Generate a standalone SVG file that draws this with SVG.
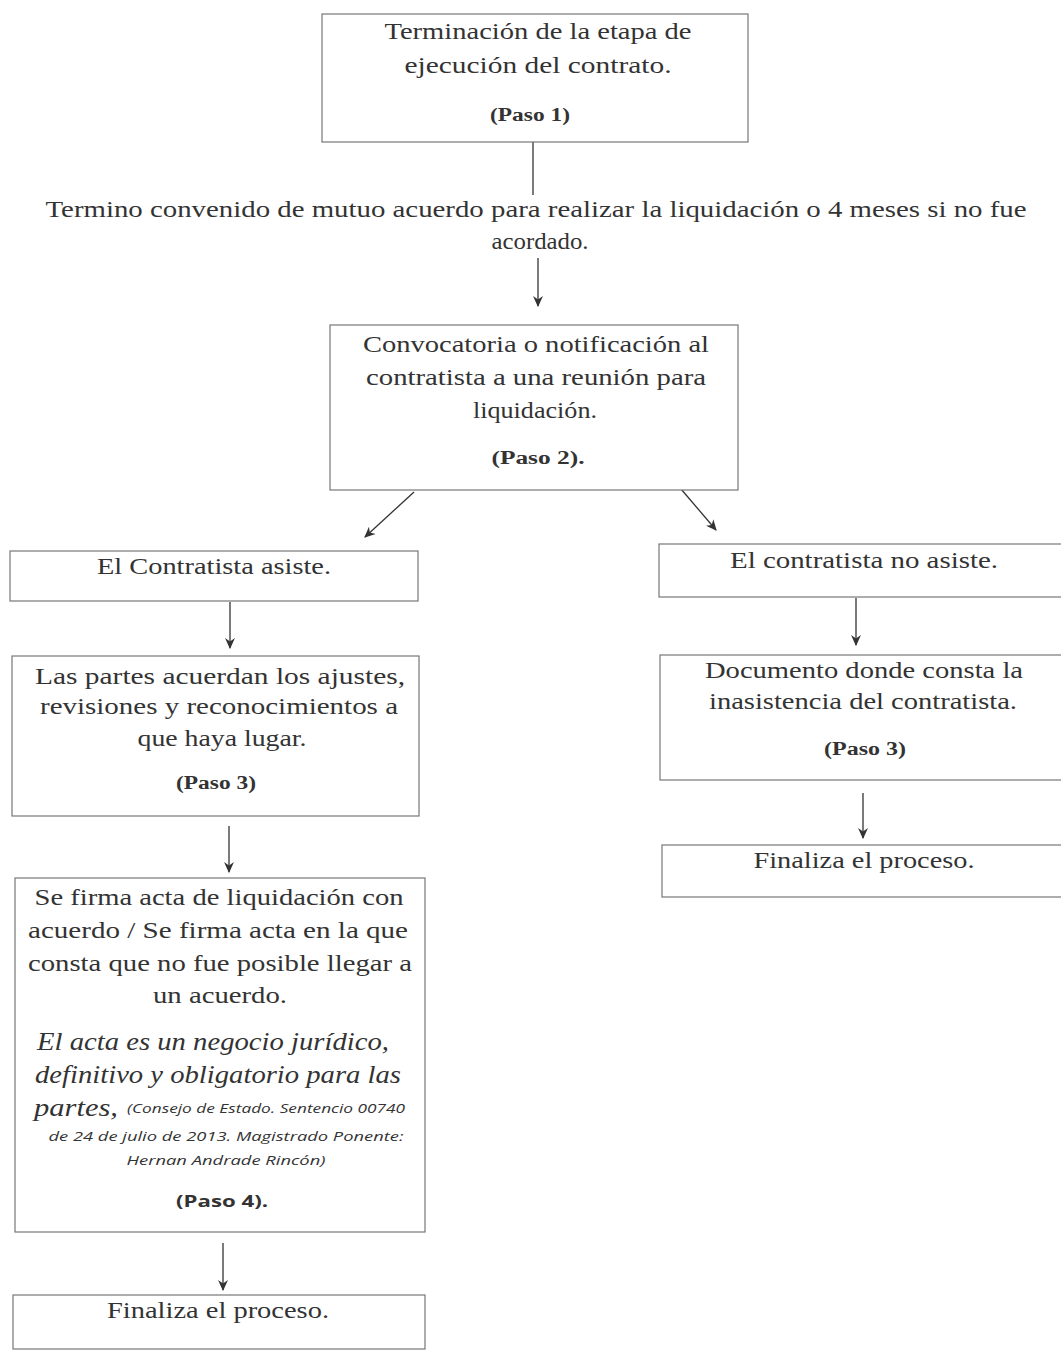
<svg xmlns="http://www.w3.org/2000/svg" width="1061" height="1351" viewBox="0 0 1061 1351">
<style>
.box{fill:#fff;stroke:#777;stroke-width:1.2}
.t{font-family:"Liberation Serif","Times New Roman",serif;font-size:24px;fill:#333;text-anchor:middle}
.p{font-family:"Liberation Serif","Times New Roman",serif;font-size:18px;font-weight:bold;fill:#333;text-anchor:middle}
.i{font-family:"Liberation Serif","Times New Roman",serif;font-size:26px;font-style:italic;fill:#333;text-anchor:middle}
.s{font-family:"Open Sans","Liberation Sans",sans-serif;font-size:12.5px;font-style:italic;fill:#333;text-anchor:middle}
.ps{font-family:"Open Sans","Liberation Sans",sans-serif;font-size:16px;font-weight:bold;fill:#333;text-anchor:middle}
.c{stroke:#333;stroke-width:1.3;fill:none}
</style>
<defs>
<marker id="ah" viewBox="0 0 10 10" refX="9" refY="5" markerWidth="11" markerHeight="11" markerUnits="userSpaceOnUse" orient="auto">
<path d="M0,0.5 L10,5 L0,9.5 L3,5 z" fill="#333"/>
</marker>
</defs>
<g id="connectors">
<line class="c" x1="533" y1="142" x2="533" y2="195"/>
<line class="c" x1="538" y1="258" x2="538" y2="306" marker-end="url(#ah)"/>
<line class="c" x1="414" y1="492" x2="365" y2="537" marker-end="url(#ah)"/>
<line class="c" x1="681" y1="489" x2="716" y2="530" marker-end="url(#ah)"/>
<line class="c" x1="230" y1="602" x2="230" y2="648" marker-end="url(#ah)"/>
<line class="c" x1="229" y1="826" x2="229" y2="872" marker-end="url(#ah)"/>
<line class="c" x1="223" y1="1243" x2="223" y2="1290" marker-end="url(#ah)"/>
<line class="c" x1="856" y1="598" x2="856" y2="645" marker-end="url(#ah)"/>
<line class="c" x1="863" y1="793" x2="863" y2="838" marker-end="url(#ah)"/>
</g>
<g id="n1">
<rect class="box" x="322" y="14" width="426" height="128"/>
<text class="t" x="538" y="39" textLength="307" lengthAdjust="spacingAndGlyphs">Terminación de la etapa de</text>
<text class="t" x="538" y="73" textLength="267" lengthAdjust="spacingAndGlyphs">ejecución del contrato.</text>
<text class="p" x="530" y="121" textLength="80" lengthAdjust="spacingAndGlyphs">(Paso 1)</text>
</g>
<g id="label-termino">
<text class="t" x="536" y="217" textLength="981" lengthAdjust="spacingAndGlyphs">Termino convenido de mutuo acuerdo para realizar la liquidación o 4 meses si no fue</text>
<text class="t" x="540" y="249" textLength="97" lengthAdjust="spacingAndGlyphs">acordado.</text>
</g>
<g id="n2">
<rect class="box" x="330" y="325" width="408" height="165"/>
<text class="t" x="536" y="352" textLength="346" lengthAdjust="spacingAndGlyphs">Convocatoria o notificación al</text>
<text class="t" x="536" y="385" textLength="340" lengthAdjust="spacingAndGlyphs">contratista a una reunión para</text>
<text class="t" x="535" y="418" textLength="124" lengthAdjust="spacingAndGlyphs">liquidación.</text>
<text class="p" x="538" y="464" textLength="93" lengthAdjust="spacingAndGlyphs">(Paso 2).</text>
</g>
<g id="n3">
<rect class="box" x="10" y="551" width="408" height="50"/>
<text class="t" x="214" y="574" textLength="234" lengthAdjust="spacingAndGlyphs">El Contratista asiste.</text>
</g>
<g id="n4">
<rect class="box" x="12" y="656" width="407" height="160"/>
<text class="t" x="220" y="684" textLength="370" lengthAdjust="spacingAndGlyphs">Las partes acuerdan los ajustes,</text>
<text class="t" x="219" y="714" textLength="358" lengthAdjust="spacingAndGlyphs">revisiones y reconocimientos a</text>
<text class="t" x="222" y="746" textLength="169" lengthAdjust="spacingAndGlyphs">que haya lugar.</text>
<text class="p" x="216" y="789" textLength="80" lengthAdjust="spacingAndGlyphs">(Paso 3)</text>
</g>
<g id="n5">
<rect class="box" x="15" y="878" width="410" height="354"/>
<text class="t" x="219" y="905" textLength="369" lengthAdjust="spacingAndGlyphs">Se firma acta de liquidación con</text>
<text class="t" x="218" y="938" textLength="380" lengthAdjust="spacingAndGlyphs">acuerdo /  Se firma acta en la que</text>
<text class="t" x="220" y="971" textLength="384" lengthAdjust="spacingAndGlyphs">consta que no fue posible llegar a</text>
<text class="t" x="220" y="1003" textLength="134" lengthAdjust="spacingAndGlyphs">un acuerdo.</text>
<text class="i" x="213" y="1050" textLength="352" lengthAdjust="spacingAndGlyphs">El acta es un negocio jurídico,</text>
<text class="i" x="218" y="1083" textLength="366" lengthAdjust="spacingAndGlyphs">definitivo y obligatorio para las</text>
<text class="i" x="76" y="1116" textLength="84" lengthAdjust="spacingAndGlyphs">partes,</text>
<text class="s" x="266" y="1113" textLength="278" lengthAdjust="spacingAndGlyphs">(Consejo de Estado. Sentencio 00740</text>
<text class="s" x="226" y="1141" textLength="355" lengthAdjust="spacingAndGlyphs">de 24 de julio de 2013. Magistrado Ponente:</text>
<text class="s" x="226" y="1165" textLength="199" lengthAdjust="spacingAndGlyphs">Hernan Andrade Rincón)</text>
<text class="ps" x="222" y="1207" textLength="92" lengthAdjust="spacingAndGlyphs">(Paso 4).</text>
</g>
<g id="n6">
<rect class="box" x="13" y="1295" width="412" height="54"/>
<text class="t" x="218" y="1318" textLength="222" lengthAdjust="spacingAndGlyphs">Finaliza el proceso.</text>
</g>
<g id="n7">
<rect class="box" x="659" y="544" width="404" height="53"/>
<text class="t" x="864" y="568" textLength="268" lengthAdjust="spacingAndGlyphs">El contratista no asiste.</text>
</g>
<g id="n8">
<rect class="box" x="660" y="655" width="403" height="125"/>
<text class="t" x="864" y="678" textLength="318" lengthAdjust="spacingAndGlyphs">Documento donde consta la</text>
<text class="t" x="863" y="709" textLength="308" lengthAdjust="spacingAndGlyphs">inasistencia del contratista.</text>
<text class="p" x="865" y="755" textLength="82" lengthAdjust="spacingAndGlyphs">(Paso 3)</text>
</g>
<g id="n9">
<rect class="box" x="662" y="845" width="401" height="52"/>
<text class="t" x="864" y="868" textLength="221" lengthAdjust="spacingAndGlyphs">Finaliza el proceso.</text>
</g>
</svg>
